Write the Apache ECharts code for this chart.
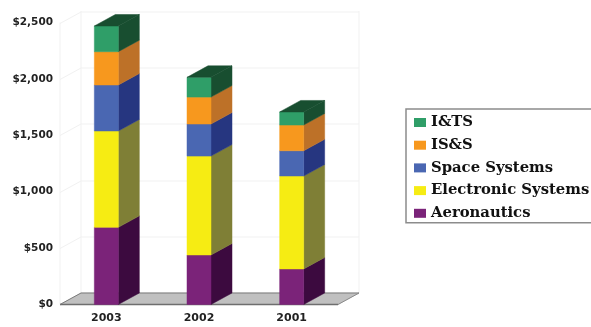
<!DOCTYPE html>
<html>
<head>
<meta charset="utf-8">
<style>html,body{margin:0;padding:0;background:#fff;overflow:hidden}#chart{width:591px;height:327px}</style>
<script src="https://cdn.jsdelivr.net/npm/echarts@6/dist/echarts.min.js"></script>
</head>
<body>
<div id="chart"></div>
<script>
// Revenue by business segment, stacked from the bottom up.
var years = ['2003', '2002', '2001'];
var segmentNames = ['Aeronautics', 'Electronic Systems', 'Space Systems', 'IS&S', 'I&TS'];
var aeronautics = [684, 439, 315];
var electronicSystems = [854, 877, 824];
var spaceSystems = [408, 284, 224];
var iss = [295, 239, 228];
var its = [228, 175, 116];
var valueTicks = [0, 500, 1000, 1500, 2000, 2500];
var frontColors = ['#7b2379', '#f6ec13', '#4a67b2', '#f7981e', '#2f9e68'];
var sideColors = ['#3c0a3f', '#7f7f36', '#263680', '#bd7128', '#184e30'];

var segmentValues = [aeronautics, electronicSystems, spaceSystems, iss, its];

// Oblique projection offset of the chart's depth axis, in pixels.
var DEPTH_X = 21;
var DEPTH_Y = -11.5;
var BAR_WIDTH = 24;

function poly(points, fill, stroke) {
  return {
    type: 'polygon',
    shape: { points: points },
    style: { fill: fill, stroke: stroke || fill, lineWidth: stroke ? 1 : 0.5 }
  };
}

function line(x1, y1, x2, y2, color, width) {
  return {
    type: 'line',
    shape: { x1: x1, y1: y1, x2: x2, y2: y2 },
    style: { stroke: color, lineWidth: width || 1, fill: null }
  };
}

// One gridline per tick, running across the side wall and the back wall.
function renderWall(params, api) {
  var cs = params.coordSys;
  var y = Math.round(api.coord([0, api.value(0)])[1]) + 0.5;
  var left = cs.x, right = cs.x + cs.width;
  var color = '#f1f1f1';
  var children = [
    line(left, y, left + DEPTH_X, y + DEPTH_Y, color),
    line(left + DEPTH_X, y + DEPTH_Y, right + DEPTH_X, y + DEPTH_Y, color)
  ];
  if (params.dataIndex === 0) {
    children.push(
      line(left, cs.y, left, cs.y + cs.height, color),
      line(left + DEPTH_X, cs.y + DEPTH_Y, left + DEPTH_X, cs.y + cs.height + DEPTH_Y, color),
      line(right + DEPTH_X, cs.y + DEPTH_Y, right + DEPTH_X, cs.y + cs.height + DEPTH_Y, color)
    );
  }
  return { type: 'group', children: children };
}

// The grey floor plate under the columns.
function renderFloor(params) {
  var cs = params.coordSys;
  var b = cs.y + cs.height, l = cs.x, r = cs.x + cs.width;
  return {
    type: 'group',
    children: [
      poly([[l, b], [r, b], [r + DEPTH_X, b + DEPTH_Y], [l + DEPTH_X, b + DEPTH_Y]], '#c0c0c0'),
      line(l, b, r, b, '#6e6e6e', 1.5),
      line(l, b, l + DEPTH_X, b + DEPTH_Y, '#7a7a7a'),
      line(l + DEPTH_X, b + DEPTH_Y, r + DEPTH_X, b + DEPTH_Y, '#7a7a7a'),
      line(r + DEPTH_X, b + DEPTH_Y, r, b, '#8a8a8a')
    ]
  };
}

// A column segment: front face, side face, and a lid on the top segment.
function makeSegmentRenderer(idx) {
  return function (params, api) {
    var low = api.coord([api.value(0), api.value(1)]);
    var high = api.coord([api.value(0), api.value(2)]);
    var x0 = low[0] - BAR_WIDTH / 2, x1 = low[0] + BAR_WIDTH / 2;
    var side = sideColors[idx];
    var children = [
      poly([[x1, low[1]], [x1 + DEPTH_X, low[1] + DEPTH_Y], [x1 + DEPTH_X, high[1] + DEPTH_Y], [x1, high[1]]], side),
      poly([[x0, low[1]], [x1, low[1]], [x1, high[1]], [x0, high[1]]], frontColors[idx])
    ];
    if (idx === segmentNames.length - 1) {
      children.push(poly([[x0, high[1]], [x1, high[1]], [x1 + DEPTH_X, high[1] + DEPTH_Y], [x0 + DEPTH_X, high[1] + DEPTH_Y]], side));
    }
    return { type: 'group', children: children };
  };
}

var running = years.map(function () { return 0; });
var segmentSeries = segmentNames.map(function (name, idx) {
  var data = years.map(function (year, i) {
    var base = running[i];
    running[i] += segmentValues[idx][i];
    return [i, base, running[i]];
  });
  return {
    type: 'custom',
    name: name,
    renderItem: makeSegmentRenderer(idx),
    encode: { x: 0, y: [1, 2] },
    itemStyle: { color: frontColors[idx] },
    data: data,
    z: 5,
    silent: true
  };
});

var chart = echarts.init(document.getElementById('chart'), null, { renderer: 'canvas' });
chart.setOption({
  animation: false,
  backgroundColor: '#ffffff',
  grid: { left: 60, right: 253, top: 22.5, bottom: 22.5 },
  xAxis: {
    type: 'category',
    data: years,
    axisLine: { show: false },
    axisTick: { show: false },
    axisLabel: {
      margin: 8,
      color: '#222222',
      fontFamily: 'DejaVu Sans',
      fontWeight: 'bold',
      fontSize: 11
    }
  },
  yAxis: {
    type: 'value',
    min: 0,
    max: 2500,
    interval: 500,
    axisLine: { show: false },
    axisTick: { show: false },
    splitLine: { show: false },
    axisLabel: {
      margin: 7,
      color: '#222222',
      fontFamily: 'DejaVu Sans',
      fontWeight: 'bold',
      fontSize: 10.5,
      formatter: function (v) {
        return '$' + String(v).replace(/\B(?=(\d{3})+$)/g, ',');
      }
    }
  },
  legend: {
    orient: 'vertical',
    left: 406,
    top: 109,
    data: segmentNames.slice().reverse(),
    icon: 'rect',
    itemWidth: 12,
    itemHeight: 9,
    itemGap: 7.7,
    padding: [6, 30, 2, 8],
    borderColor: '#8c8c8c',
    borderWidth: 1.5,
    textStyle: {
      color: '#111111',
      fontFamily: 'DejaVu Serif',
      fontWeight: 'bold',
      fontSize: 14.8
    },
    selectedMode: false
  },
  series: [
    {
      type: 'custom',
      name: 'wall',
      renderItem: renderWall,
      encode: { y: 0 },
      data: valueTicks.map(function (v) { return [v]; }),
      z: 1,
      silent: true
    },
    {
      type: 'custom',
      name: 'floor',
      renderItem: renderFloor,
      encode: { y: 0 },
      data: [[0]],
      z: 2,
      silent: true
    }
  ].concat(segmentSeries)
});
</script>
</body>
</html>
